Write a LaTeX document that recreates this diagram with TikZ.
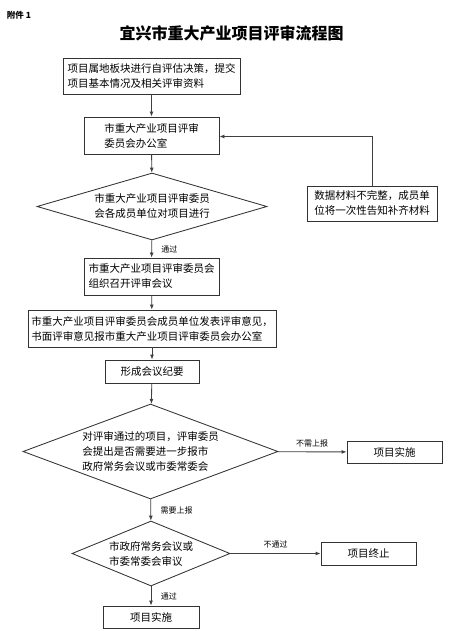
\documentclass[tikz,border=0pt]{standalone}
\usepackage{fontspec}
\setmainfont{Noto Sans CJK SC}
\usetikzlibrary{arrows.meta,shapes.geometric}
\tikzset{
	box/.style={draw=black!80, line width=0.3mm, align=left, inner sep=0pt, font=\fontsize{10.5}{15}\selectfont},
	decision/.style={draw=black!80, line width=0.3mm, diamond, aspect=#1, align=left, inner sep=0pt, font=\fontsize{10.5}{15}\selectfont},
	flow/.style={draw=black!75, line width=0.3mm, -{Latex[length=5pt,width=4pt]}},
	lbl/.style={font=\fontsize{8}{8}\selectfont}
}

\begin{document}
\begin{tikzpicture}[x=1pt, y=-1pt]
		%%%%% START %%%%%
		\useasboundingbox (0, 0) rectangle (454, 631);
		
		\node[font=\bfseries\fontsize{8.5}{9}\selectfont] (annex) at (19, 15) {附件 1};
		\node[font=\bfseries\fontsize{16}{16}\selectfont] (title) at (231.5, 33) {宜兴市重大产业项目评审流程图};
		
		% main column
		\node[box, minimum width=177, minimum height=36] (submit) at (151.5, 76) {项目属地板块进行自评估决策，提交\\项目基本情况及相关评审资料};
		\node[box, minimum width=135, minimum height=37] (office) at (151.5, 135.5) {市重大产业项目评审\\委员会办公室};
		\node[decision=3.4, minimum width=230, minimum height=67] (check) at (152, 206.5) {市重大产业项目评审委员\\会各成员单位对项目进行};
		\node[box, minimum width=135, minimum height=37] (meeting) at (151.5, 276.5) {市重大产业项目评审委员会\\组织召开评审会议};
		\node[box, minimum width=248, minimum height=37] (opinion) at (152, 328.5) {市重大产业项目评审委员会成员单位发表评审意见，\\书面评审意见报市重大产业项目评审委员会办公室};
		\node[box, minimum width=94, minimum height=23] (minutes) at (152, 371.5) {形成会议纪要};
		\node[decision=2.7, minimum width=255, minimum height=95] (report) at (150.5, 451.5) {对评审通过的项目，评审委员\\会提出是否需要进一步报市\\政府常务会议或市委常委会};
		\node[decision=2.45, minimum width=158, minimum height=65] (council) at (151, 553.5) {市政府常务会议或\\市委常委会审议};
		\node[box, minimum width=96, minimum height=22] (impla) at (151, 617) {项目实施};
		
		% right column
		\node[box, minimum width=130, minimum height=35] (supply) at (372, 203.5) {数据材料不完整，成员单\\位将一次性告知补齐材料};
		\node[box, minimum width=95, minimum height=22] (implb) at (394.5, 452) {项目实施};
		\node[box, minimum width=95, minimum height=23] (stop) at (368.5, 553.5) {项目终止};
		
		% connectors
		\draw[flow] (submit) -- (office);
		\draw[flow] (office) -- (check);
		\draw[flow] (check) -- node[lbl, right=6pt] {通过} (meeting);
		\draw[flow] (meeting) -- (opinion);
		\draw[flow] (opinion) -- (minutes);
		\draw[flow] (minutes) -- (report);
		\draw[flow] (report) -- node[lbl, above=1pt] {不需上报} (implb);
		\draw[flow] (report) -- node[lbl, right=6pt] {需要上报} (council);
		\draw[flow] (council) -- node[lbl, above=2pt] {不通过} (stop);
		\draw[flow] (council) -- node[lbl, right=6pt] {通过} (impla);
		\draw[flow] (supply.north) |- ([yshift=-1]office.east);
		
		%%%%% END %%%%%
	\end{tikzpicture}
\end{document}
